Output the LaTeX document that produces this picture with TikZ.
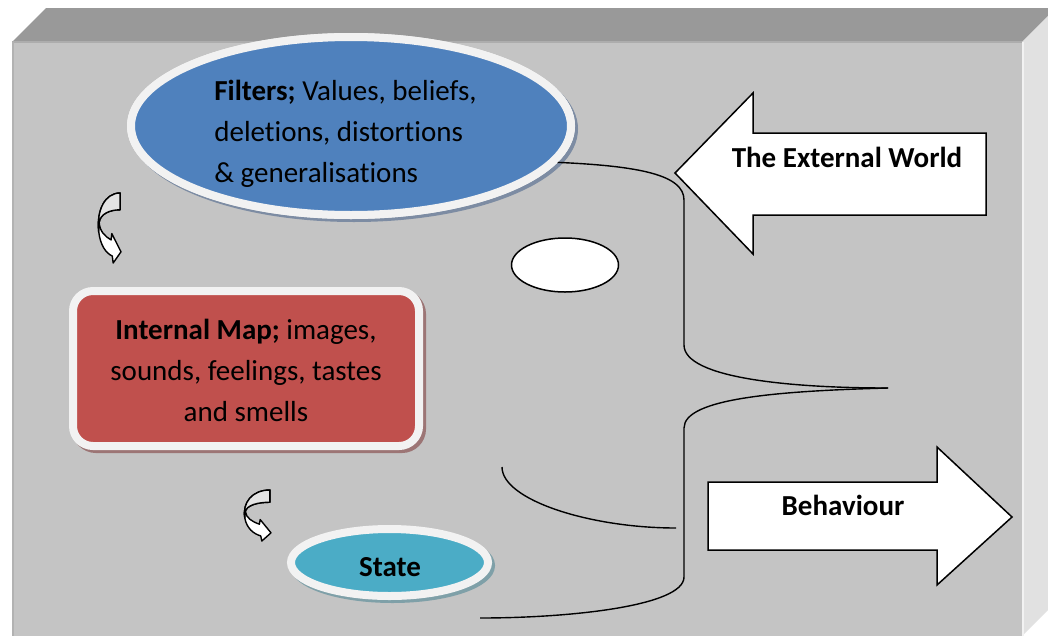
\documentclass[tikz,border=0pt]{standalone}
\usepackage{fontspec}
\setmainfont{Carlito}[Ligatures=NoCommon]
\usetikzlibrary{shapes.geometric,shadows}

\definecolor{frontface}{HTML}{C4C4C4}
\definecolor{topface}{HTML}{999999}
\definecolor{sideface}{HTML}{E1E1E1}
\definecolor{rim}{HTML}{F2F2F2}
\definecolor{filtersblue}{HTML}{4F81BD}
\definecolor{mapred}{HTML}{C0504D}
\definecolor{stateteal}{HTML}{4BACC6}
\definecolor{blueshadow}{HTML}{7D8CA3}
\definecolor{redshadow}{HTML}{9C7575}
\definecolor{tealshadow}{HTML}{7FA0A8}
\definecolor{backfold}{HTML}{E4E4E4}

\tikzset{
  txt/.style={font=\fontsize{29}{41}\selectfont, inner sep=0pt, text=black},
  boldtxt/.style={txt, font=\fontsize{29}{41}\selectfont\bfseries},
  rimmed/.style={draw=rim, line width=8pt, inner sep=0pt},
  brace/.style={draw=black, line width=1.4pt},
  blockarrow/.style={draw=black, line width=1.5pt, fill=white, line join=miter},
  bentarrow/.style={draw=black, line width=1.4pt, line join=round},
}

% curved "turn" arrow drawn in a unit box (y grows downwards)
\newcommand{\turnarrow}[4]{%
  \begin{scope}[shift={(#1,#2)}, xscale=#3, yscale=#4]
    \path[bentarrow, fill=white]
      (0.96,0) .. controls (0.30,0) and (-0.07,0.25) .. (0.03,0.55)
      .. controls (0.10,0.75) and (0.35,0.86) .. (0.62,0.90)
      -- (0.66,1.0) -- (1.0,0.84) -- (0.60,0.58) -- (0.57,0.67)
      .. controls (0.30,0.62) and (0.08,0.55) .. (0.05,0.42)
      .. controls (0.10,0.30) and (0.50,0.24) .. (0.96,0.24) -- cycle;
    \path[bentarrow, fill=backfold]
      (0.96,0) .. controls (0.30,0) and (-0.07,0.25) .. (0.03,0.55)
      -- (0.05,0.42)
      .. controls (0.10,0.30) and (0.50,0.24) .. (0.96,0.24) -- cycle;
  \end{scope}}

\begin{document}
\begin{tikzpicture}[x=1pt, y=-1pt]
  \useasboundingbox (0,0) rectangle (1048,635);
  \fill[white] (0,0) rectangle (1048,635);

  % the slab: top, right side and front faces
  \fill[topface] (12,42) -- (46,8) -- (1056,8) -- (1022,42) -- cycle;
  \fill[sideface] (1022,42) -- (1056,8) -- (1056,602) -- (1022,636) -- cycle;
  \fill[frontface] (12,42) rectangle (1022,640);
  \draw[line width=2pt, color=black!32] (12,42) -- (1022,42);
  \draw[line width=2pt, color=black!30] (13,42) -- (13,640);
  \draw[line width=1.5pt, color=black!5] (1023,42) -- (1023,640);

  % connector curves
  \coordinate (tipmid) at (888,388);
  \coordinate (lowend) at (480,618);
  \coordinate (arcstart) at (502,467);
  \coordinate (arcend) at (676,528);

  % Filters ellipse (drawn first so the curve starts under its rim)
  \node[ellipse, rimmed, fill=filtersblue, minimum width=440, minimum height=178,
        drop shadow={shadow xshift=3pt, shadow yshift=-3pt, fill=blueshadow,
                     draw=blueshadow, line width=8pt, opacity=1}]
        (filters) at (351,126) {};

  \draw[brace] (filters.-10) .. controls (640,166) and (684,175) .. (684,200)
        -- (684,345) .. controls (684,378) and (790,388) .. (tipmid);
  \draw[brace] (tipmid) .. controls (780,391) and (684,398) .. (684,428)
        -- (684,577) .. controls (684,606) and (570,618) .. (lowend);
  \draw[brace] (arcstart) .. controls (502,500) and (590,528) .. (arcend);

  % redraw the ellipse on top of the curve's start
  \node[ellipse, rimmed, fill=filtersblue, minimum width=440, minimum height=178]
        (filterstop) at (351,126) {};

  % Internal map box
  \node[rectangle, rounded corners=20pt, rimmed, fill=mapred,
        minimum width=346, minimum height=155,
        drop shadow={shadow xshift=3pt, shadow yshift=-3pt, fill=redshadow,
                     draw=redshadow, line width=8pt, opacity=1}]
        (map) at (246,368.5) {};

  % State ellipse
  \node[ellipse, rimmed, fill=stateteal, minimum width=197, minimum height=67,
        drop shadow={shadow xshift=3pt, shadow yshift=-3pt, fill=tealshadow,
                     draw=tealshadow, line width=8pt, opacity=1}]
        (state) at (389.5,562.5) {};

  % small blank ellipse
  \node[ellipse, draw=black, line width=1.5pt, fill=white, inner sep=0pt,
        minimum width=107, minimum height=54] (blank) at (565,265) {};

  % block arrows
  \path[blockarrow] (675,173) -- (753,93) -- (753,133) -- (986,133)
        -- (986,215) -- (753,215) -- (753,254) -- cycle;
  \path[blockarrow] (708,482) -- (937,482) -- (937,447) -- (1012,517)
        -- (937,585) -- (937,550) -- (708,550) -- cycle;

  % turn arrows
  \turnarrow{98}{193}{23}{70}
  \turnarrow{244}{490}{27}{51}

  % texts
  \node[txt, align=left] (filterstext) at (345.5,134)
        {\textbf{Filters;} Values, beliefs,\\deletions, distortions\\\& generalisations};
  \node[txt, align=center] (maptext) at (246,370)
        {\textbf{Internal Map;} images,\\sounds, feelings, tastes\\and smells};
  \node[boldtxt] (statetext) at (390,567) {State};
  \node[boldtxt] (worldtext) at (847,157) {The External World};
  \node[boldtxt] (behaviourtext) at (843,505) {Behaviour};
\end{tikzpicture}
\end{document}
